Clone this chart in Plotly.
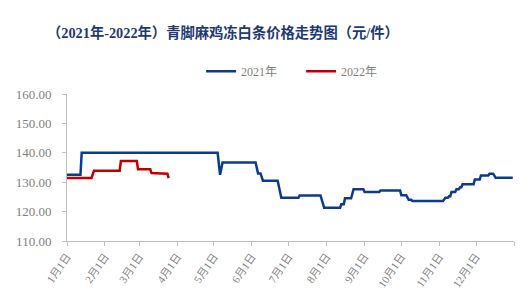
import plotly.graph_objects as go

# 2021 series (month-day, value)
dates_2021 = ["01-01", "01-12", "01-13", "05-04", "05-06", "05-08", "06-04", "06-06", "06-08",
              "06-10", "06-22", "06-25", "07-09", "07-10", "07-27", "07-28", "07-30", "08-12",
              "08-13", "08-15", "08-16", "08-21", "08-23", "08-31", "09-01", "09-13", "09-14",
              "09-30", "10-01", "10-05", "10-07", "10-09", "10-10", "11-04", "11-06", "11-08",
              "11-09", "11-10", "11-11", "11-14", "11-15", "11-17", "11-18", "11-19", "11-20",
              "11-29", "11-30", "12-04", "12-05", "12-11", "12-12", "12-15", "12-17", "12-31"]
values_2021 = [132.5, 132.5, 140.0, 140.0, 132.5, 136.7, 136.7, 133.0, 133.0,
               130.5, 130.5, 124.7, 124.7, 125.5, 125.5, 124.3, 121.3, 121.3,
               122.5, 122.5, 124.5, 124.5, 127.6, 127.6, 126.7, 126.7, 127.2,
               127.2, 125.6, 125.6, 124.0, 124.0, 123.6, 123.6, 124.7, 124.7,
               125.2, 125.2, 126.7, 126.7, 127.6, 127.6, 128.3, 128.3, 129.3,
               129.3, 130.9, 130.9, 132.3, 132.3, 132.9, 132.9, 131.5, 131.5]

# 2022 series
dates_2022 = ["01-01", "01-21", "01-23", "02-13", "02-14", "02-27", "02-28", "03-10",
              "03-11", "03-15", "03-16", "03-24", "03-25"]
values_2022 = [131.4, 131.4, 133.9, 133.9, 137.2, 137.2, 134.4, 134.4,
               133.1, 133.1, 132.9, 132.9, 131.4]

tick_dates = ["01-01", "02-01", "03-01", "04-01", "05-01", "06-01",
              "07-01", "08-01", "09-01", "10-01", "11-01", "12-01"]
tick_labels = ["1月1日", "2月1日", "3月1日", "4月1日", "5月1日", "6月1日",
               "7月1日", "8月1日", "9月1日", "10月1日", "11月1日", "12月1日"]

def on_axis(md):
    return ["2021-" + d for d in md]

SERIF = "'Liberation Serif', 'Noto Sans CJK SC', serif"
GRAY = "#7F7F7F"
AXIS = "#BFBFBF"

fig = go.Figure()
fig.add_trace(go.Scatter(x=on_axis(dates_2021), y=values_2021, mode="lines", name="2021年",
                         line=dict(color="#0B3C8C", width=2.5)))
fig.add_trace(go.Scatter(x=on_axis(dates_2022), y=values_2022, mode="lines", name="2022年",
                         line=dict(color="#C00000", width=2.5)))

fig.update_layout(
    width=532, height=307,
    margin=dict(l=67, r=18, t=94, b=66),
    paper_bgcolor="white", plot_bgcolor="white",
    title=dict(text="<b>（2021年-2022年）青脚麻鸡冻白条价格走势图（元/件）</b>",
               x=47 / 532, xanchor="left", xref="container",
               y=1 - 33 / 307, yanchor="middle", yref="container",
               font=dict(family=SERIF, size=14.3, color="#1F3A73")),
    showlegend=True,
    legend=dict(orientation="h", x=0.30, xanchor="left", y=1.155, yanchor="middle",
                font=dict(family=SERIF, size=12, color=GRAY),
                entrywidth=55, entrywidthmode="pixels",
                bgcolor="rgba(0,0,0,0)", itemwidth=30),
    xaxis=dict(
        type="date",
        range=["2021-01-01", "2022-01-01"],
        tickvals=on_axis(tick_dates) + ["2022-01-01"],
        ticktext=tick_labels + [""],
        tickangle=-55,
        showgrid=False, zeroline=False,
        showline=True, linecolor=AXIS, linewidth=1,
        ticks="outside", ticklen=4, tickcolor=AXIS,
        tickfont=dict(family=SERIF, size=11, color=GRAY),
    ),
    yaxis=dict(
        range=[110, 160], dtick=10, tick0=110, tickformat=".2f",
        showgrid=False, zeroline=False,
        showline=True, linecolor=AXIS, linewidth=1,
        ticks="outside", ticklen=4, tickcolor=AXIS, ticklabelstandoff=8,
        tickfont=dict(family=SERIF, size=13, color=GRAY),
    ),
)

fig.write_html("out.html")
